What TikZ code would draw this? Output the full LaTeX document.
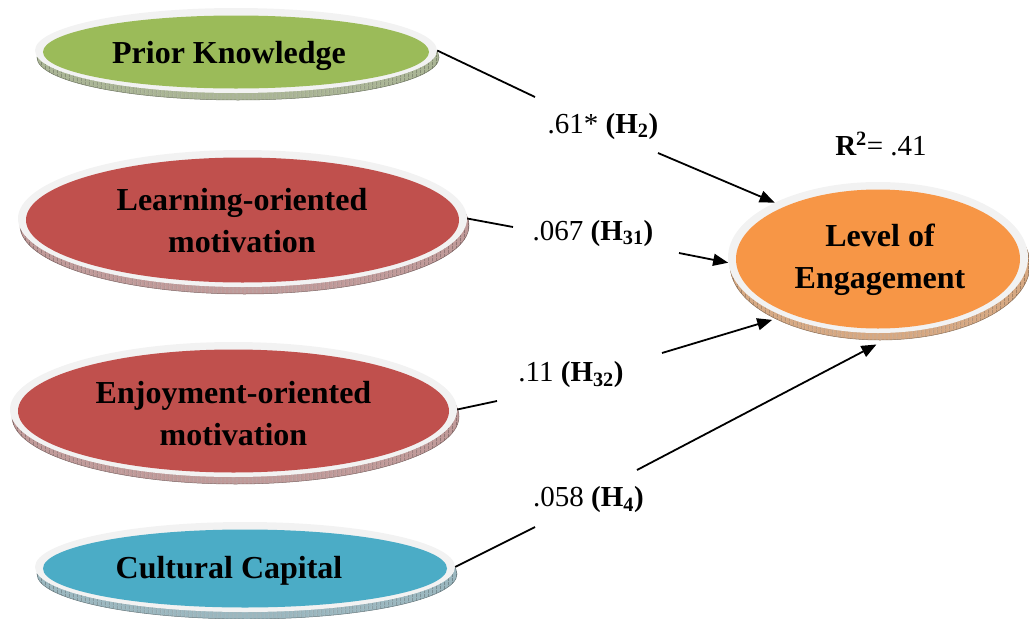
\documentclass[tikz,border=0pt]{standalone}
\usepackage{fontspec}
\setmainfont{Liberation Serif}
\usetikzlibrary{shapes.geometric,arrows.meta,patterns.meta}

\definecolor{rim}{HTML}{F2F2F2}
\definecolor{pkfill}{HTML}{9BBB59}
\definecolor{pkbase}{HTML}{AAB595}
\definecolor{motfill}{HTML}{C0504D}
\definecolor{motbase}{HTML}{C09A99}
\definecolor{ccfill}{HTML}{4BACC6}
\definecolor{ccbase}{HTML}{9BB7BF}
\definecolor{loefill}{HTML}{F79646}
\definecolor{loebase}{HTML}{D6A882}

\tikzset{
  % raised disk: shifted hatched base, light rim, coloured top
  disk/.style n args={4}{
    ellipse, inner sep=0pt, minimum width=#1, minimum height=#2, fill=rim,
    preaction={fill=#4, draw=#4!65!black, line width=0.5pt,
      transform canvas={xshift=2pt,yshift=-7pt}},
    preaction={pattern={Lines[angle=90,distance=4pt,line width=0.4pt]},
      pattern color=#4!60!black, transform canvas={xshift=2pt,yshift=-7pt}},
    path picture={\fill[#3] ([yshift=-1.5pt]path picture bounding box.center)
      ellipse [x radius={#1/2-8pt}, y radius={#2/2-6pt}];}
  },
  disktext/.style={font=\fontsize{32}{42}\selectfont\bfseries, align=center, inner sep=0pt},
  coef/.style={font=\fontsize{29}{35}\selectfont, inner sep=0pt, anchor=base},
  link/.style={line width=1.8pt, black},
  arr/.style={link, -{Triangle[length=15pt,width=12pt]}}
}

\begin{document}
\begin{tikzpicture}[x=1pt,y=-1pt]
\useasboundingbox (0,0) rectangle (1029,619);

% constructs
\node[disk={402pt}{85pt}{pkfill}{pkbase}]    (pk)  at (236,50.5)    {};
\node[disk={449pt}{137pt}{motfill}{motbase}] (lom) at (242.5,218.5) {};
\node[disk={447pt}{135pt}{motfill}{motbase}] (eom) at (233.5,409.5) {};
\node[disk={420pt}{90pt}{ccfill}{ccbase}]    (cc)  at (245,567)     {};
\node[disk={300pt}{151pt}{loefill}{loebase}] (loe) at (878,257.5)   {};

% path coefficients
\node[coef] (c1) at (603,133)   {.61* \textbf{(H\textsubscript{2})}};
\node[coef] (c2) at (593,240)   {.067 \textbf{(H\textsubscript{31})}};
\node[coef] (c3) at (571,381.5) {.11 \textbf{(H\textsubscript{32})}};
\node[coef] (c4) at (588.5,506.5) {.058 \textbf{(H\textsubscript{4})}};
\node[coef] (r2) at (881,155)   {\textbf{R\textsuperscript{2}}= .41};

% breaks in the paths around the coefficients
\coordinate (g1a) at (535,97);  \coordinate (g1b) at (658,153);
\coordinate (g2a) at (513,227); \coordinate (g2b) at (679,253);
\coordinate (g3a) at (497,401); \coordinate (g3b) at (662,353);
\coordinate (g4a) at (535,527); \coordinate (g4b) at (637,470);

\draw[link] (pk.east) -- (g1a);
\draw[arr] (g1b) -- (loe.152);
\draw[link] (lom.east) -- (g2a);
\draw[arr] (g2b) -- (loe.182);
\draw[link] (eom.east) -- (g3a);
\draw[arr, shorten >=12pt] (g3b) -- (loe.212);
\draw[link] (cc.east) -- (g4a);
\draw[arr, shorten >=26pt] (g4b) -- (loe.286);

% labels of the constructs
\node[disktext, anchor=base] (pk-t)  at (229,63)    {Prior Knowledge};
\node[disktext]              (lom-t) at (242,221)   {Learning-oriented\\motivation};
\node[disktext]              (eom-t) at (233.5,414) {Enjoyment-oriented\\motivation};
\node[disktext, anchor=base] (cc-t)  at (229,578)   {Cultural Capital};
\node[disktext]              (loe-t) at (880,260)   {Level of\\Engagement};
\end{tikzpicture}
\end{document}
